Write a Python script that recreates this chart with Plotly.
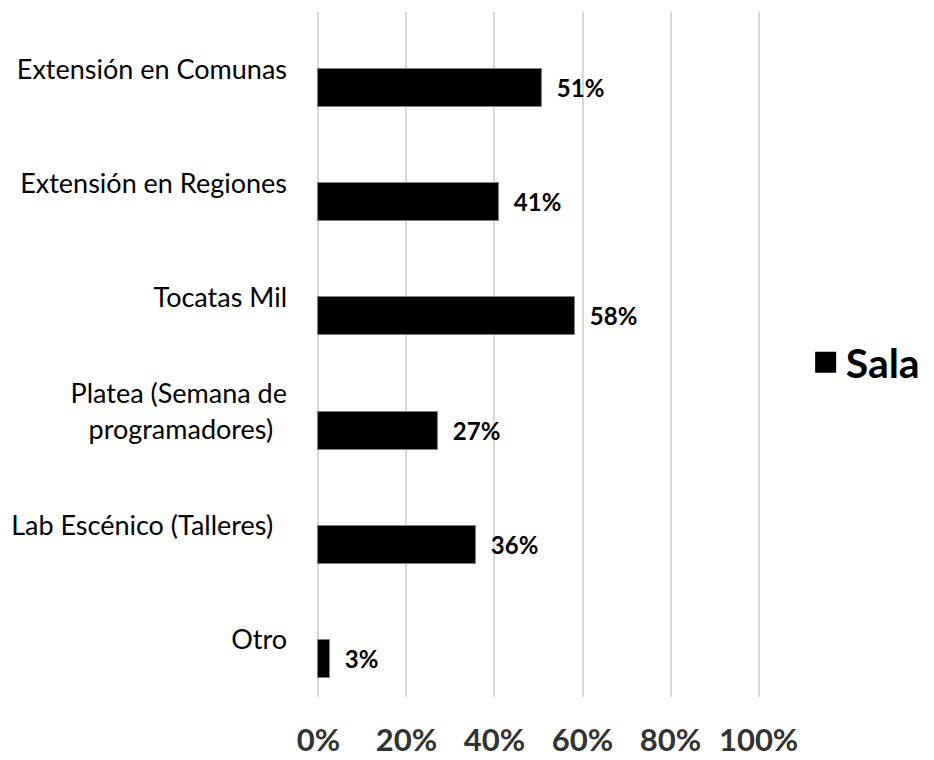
import plotly.graph_objects as go

categories = [
    "Extensión en Comunas",
    "Extensión en Regiones",
    "Tocatas Mil",
    "Platea (Semana de<br>programadores)\u00a0\u00a0",
    "Lab Escénico (Talleres)\u00a0\u00a0",
    "Otro",
]
values = [0.509, 0.41, 0.583, 0.272, 0.359, 0.026]
series_name = "Sala"
x_ticks = [0, 0.2, 0.4, 0.6, 0.8, 1.0]
x_tick_labels = ["0%", "20%", "40%", "60%", "80%", "100%"]

FONT = "Lato"

fig = go.Figure()
fig.add_trace(go.Bar(
    y=categories,
    x=values,
    orientation="h",
    offset=0,
    width=0.333,
    marker=dict(color="#000000", line=dict(color="#7f7f7f", width=1)),
    texttemplate="\u00a0\u00a0<b>%{x:.0%}</b>",
    textposition="outside",
    constraintext="none",
    cliponaxis=False,
    textfont=dict(family=FONT, size=24, color="#000000"),
    showlegend=False,
    name=series_name,
))
# legend entry
fig.add_trace(go.Scatter(
    x=[None], y=[None], mode="markers",
    marker=dict(symbol="square", size=16, color="#000000",
                line=dict(color="#000000", width=5)),
    name="<b>" + series_name + "</b>",
    showlegend=True,
))

# page has an 8px body margin, so the figure is 926x752
fig.update_layout(
    width=926, height=752,
    margin=dict(l=306, r=171, t=4, b=63, autoexpand=False),
    paper_bgcolor="white", plot_bgcolor="white",
    font=dict(family=FONT, color="#000000"),
    showlegend=True,
    legend=dict(
        x=1.095, y=0.488, xanchor="left", yanchor="middle",
        font=dict(family=FONT, size=41, color="#000000"),
        bgcolor="rgba(0,0,0,0)",
    ),
    bargap=0,
)
fig.update_xaxes(
    range=[-0.01, 1.01],
    tickvals=x_ticks, ticktext=x_tick_labels,
    showgrid=True, gridcolor="#d9d9d9", gridwidth=1.5,
    zeroline=False, showline=False,
    tickfont=dict(family=FONT, size=31, color="#333333", weight="bold"),
    ticks="", ticklabelstandoff=22,
    automargin=False,
    fixedrange=True,
)
fig.update_yaxes(
    type="category",
    categoryorder="array", categoryarray=categories,
    range=[5.5, -0.5],
    showgrid=False, zeroline=False, showline=False,
    tickfont=dict(family=FONT, size=27, color="#000000"),
    ticks="", ticklabelstandoff=26,
    automargin=False,
    fixedrange=True,
)

fig.write_html("out.html")
